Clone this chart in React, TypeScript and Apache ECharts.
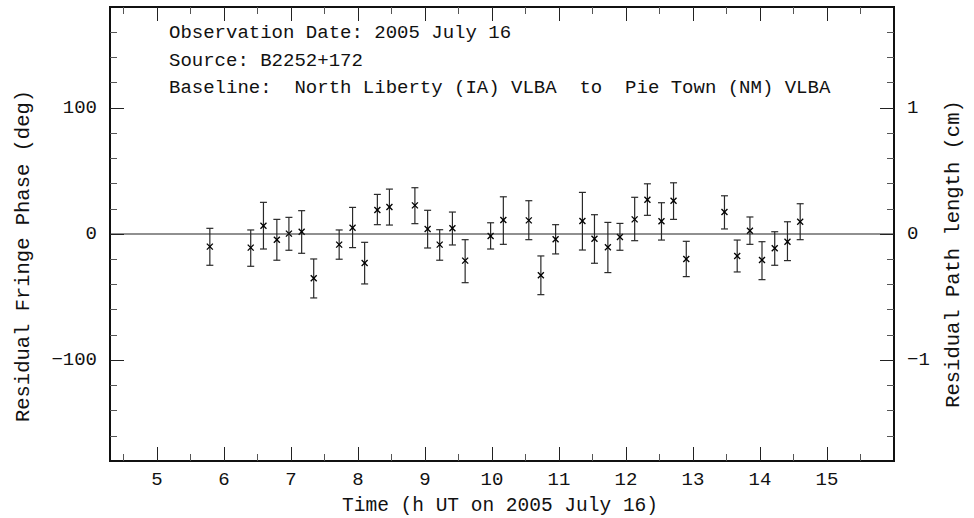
import React, { useEffect, useRef } from "react";
import * as echarts from "echarts";

const times = [5.79, 6.40, 6.59, 6.79, 6.97, 7.16, 7.34, 7.72, 7.92, 8.10, 8.29, 8.47, 8.85, 9.04, 9.22, 9.41, 9.60, 9.98, 10.17, 10.55, 10.73, 10.95, 11.35, 11.53, 11.73, 11.91, 12.13, 12.32, 12.53, 12.71, 12.90, 13.47, 13.66, 13.85, 14.03, 14.22, 14.41, 14.60];
const phase = [-10.0, -10.8, 6.6, -4.5, 0.3, 1.8, -35.1, -8.4, 5.0, -23.0, 19.0, 21.4, 22.7, 4.0, -8.4, 4.5, -21.1, -1.6, 11.1, 10.8, -32.7, -4.2, 10.3, -3.7, -10.5, -2.4, 11.6, 27.2, 10.1, 26.4, -19.8, 17.4, -17.4, 2.6, -20.6, -11.3, -6.1, 9.7];
const upper = [4.5, 3.2, 25.1, 11.6, 13.2, 18.5, -19.8, 3.2, 21.1, -6.6, 31.4, 35.6, 36.7, 18.8, 3.4, 17.4, -4.5, 8.9, 29.5, 26.4, -17.4, 7.4, 33.0, 15.3, 9.2, 8.4, 29.1, 39.8, 24.8, 40.6, -5.8, 30.3, -4.8, 13.5, -6.1, 1.8, 9.7, 24.0];
const lower = [-24.8, -25.6, -11.9, -20.8, -12.9, -15.3, -50.7, -20.0, -10.8, -39.6, 7.4, 7.1, 8.2, -11.1, -20.8, -8.7, -38.6, -11.9, -8.2, -4.5, -48.1, -15.8, -12.7, -23.2, -30.6, -12.9, -5.3, 14.8, -4.8, 11.6, -33.8, 4.0, -30.1, -8.2, -36.2, -24.8, -21.1, -4.5];

const X_MIN = 4.3;
const X_MAX = 16.0;
const Y_MIN = -180;
const Y_MAX = 180;
const xMajorTicks = [5, 6, 7, 8, 9, 10, 11, 12, 13, 14, 15];
const xMinorTicks = [4.5, 5.5, 6.5, 7.5, 8.5, 9.5, 10.5, 11.5, 12.5, 13.5, 14.5, 15.5];
const yMajorTicks = [-100, 0, 100];
const yMinorTicks = [-160, -140, -120, -80, -60, -40, -20, 20, 40, 60, 80, 120, 140, 160];
const rMajorTicks = [-1, 0, 1];
const rMinorTicks = [-1.6, -1.4, -1.2, -0.8, -0.6, -0.4, -0.2, 0.2, 0.4, 0.6, 0.8, 1.2, 1.4, 1.6];

const annotations = [
  "Observation Date: 2005 July 16",
  "Source: B2252+172",
  "Baseline:  North Liberty (IA) VLBA  to  Pie Town (NM) VLBA",
];
const xTitle = "Time (h UT on 2005 July 16)";
const yTitle = "Residual Fringe Phase (deg)";
const rTitle = "Residual Path length (cm)";

const FONT = "Liberation Mono";
const INK = "#111";

const fmt = (v: number) => (v < 0 ? "\u2212" + String(-v) : String(v));

function axisBase(extra: any) {
  return {
    type: "value",
    axisLine: { show: true, onZero: false, lineStyle: { color: INK, width: 2 } },
    splitLine: { show: false },
    ...extra,
  };
}

export default function App() {
  const ref = useRef<HTMLDivElement>(null);
  useEffect(() => {
    if (!ref.current) return;
    const chart = echarts.init(ref.current, null, { renderer: "svg" });
    const data = times.map((t, i) => [t, phase[i], lower[i], upper[i]]);

    const minorTick = (vals: number[]) => ({
      show: true,
      inside: true,
      length: 7,
      customValues: vals,
      lineStyle: { color: "#555", width: 1 },
    });
    const majorTick = (vals: number[]) => ({
      show: true,
      inside: true,
      length: 14,
      customValues: vals,
      lineStyle: { color: "#222", width: 1 },
    });
    const label = (vals: number[], margin: number, extra: any = {}) => ({
      show: true,
      customValues: vals,
      formatter: (v: number) => fmt(Math.round(v * 1000) / 1000),
      fontFamily: FONT,
      fontSize: 19,
      color: INK,
      margin,
      ...extra,
    });

    chart.setOption({
      animation: false,
      backgroundColor: "#fff",
      grid: { left: 110, right: 80, top: 7, bottom: 57, containLabel: false },
      xAxis: [
        axisBase({ min: X_MIN, max: X_MAX, position: "bottom", axisTick: minorTick(xMinorTicks), axisLabel: { show: false } }),
        axisBase({ min: X_MIN, max: X_MAX, position: "bottom", axisTick: majorTick(xMajorTicks), axisLabel: label(xMajorTicks, 9) }),
        axisBase({ min: X_MIN, max: X_MAX, position: "top", axisTick: minorTick(xMinorTicks), axisLabel: { show: false } }),
        axisBase({ min: X_MIN, max: X_MAX, position: "top", axisTick: majorTick(xMajorTicks), axisLabel: { show: false } }),
      ],
      yAxis: [
        axisBase({ min: Y_MIN, max: Y_MAX, position: "left", axisTick: minorTick(yMinorTicks), axisLabel: { show: false } }),
        axisBase({ min: Y_MIN, max: Y_MAX, position: "left", axisTick: majorTick(yMajorTicks), axisLabel: label(yMajorTicks, 13) }),
        axisBase({ min: Y_MIN / 100, max: Y_MAX / 100, position: "right", axisTick: minorTick(rMinorTicks), axisLabel: { show: false } }),
        axisBase({ min: Y_MIN / 100, max: Y_MAX / 100, position: "right", axisTick: majorTick(rMajorTicks), axisLabel: label(rMajorTicks, 13) }),
      ],
      graphic: [
        ...annotations.map((t, i) => ({
          type: "text",
          x: 169,
          y: 33 + i * 27.5,
          style: { text: t, font: `19px '${FONT}'`, fill: INK, align: "left", verticalAlign: "middle" },
          silent: true,
        })),
        {
          type: "text",
          x: 23,
          y: 256,
          rotation: Math.PI / 2,
          style: { text: yTitle, font: `20.5px '${FONT}'`, fill: INK, align: "center", verticalAlign: "middle" },
          silent: true,
        },
        {
          type: "text",
          x: 953,
          y: 254,
          rotation: Math.PI / 2,
          style: { text: rTitle, font: `20.5px '${FONT}'`, fill: INK, align: "center", verticalAlign: "middle" },
          silent: true,
        },
        {
          type: "text",
          x: 500,
          y: 506,
          style: { text: xTitle, font: `19.5px '${FONT}'`, fill: INK, align: "center", verticalAlign: "middle" },
          silent: true,
        },
      ],
      series: [
        {
          type: "line",
          xAxisIndex: 0,
          yAxisIndex: 0,
          data: [[X_MIN, 0], [X_MAX, 0]],
          symbol: "none",
          silent: true,
          lineStyle: { color: "#222", width: 1.2 },
        },
        {
          type: "custom",
          xAxisIndex: 0,
          yAxisIndex: 0,
          data,
          silent: true,
          renderItem: (params: any, api: any) => {
            const x = api.value(0);
            const p = api.coord([x, api.value(1)]);
            const lo = api.coord([x, api.value(2)]);
            const hi = api.coord([x, api.value(3)]);
            const cap = 3.5;
            const m = 3;
            const st = { stroke: "#2a2a2a", lineWidth: 1.2 };
            const mk = { stroke: "#000", lineWidth: 1.3 };
            return {
              type: "group",
              children: [
                { type: "line", shape: { x1: p[0], y1: hi[1], x2: p[0], y2: lo[1] }, style: st },
                { type: "line", shape: { x1: p[0] - cap, y1: hi[1], x2: p[0] + cap, y2: hi[1] }, style: st },
                { type: "line", shape: { x1: p[0] - cap, y1: lo[1], x2: p[0] + cap, y2: lo[1] }, style: st },
                { type: "line", shape: { x1: p[0] - m, y1: p[1] - m, x2: p[0] + m, y2: p[1] + m }, style: mk },
                { type: "line", shape: { x1: p[0] - m, y1: p[1] + m, x2: p[0] + m, y2: p[1] - m }, style: mk },
              ],
            };
          },
        },
      ],
    });
    return () => chart.dispose();
  }, []);
  return (
    <div
      ref={ref}
      style={{ position: "fixed", left: 0, top: 0, width: 974, height: 518, background: "#fff" }}
    />
  );
}
